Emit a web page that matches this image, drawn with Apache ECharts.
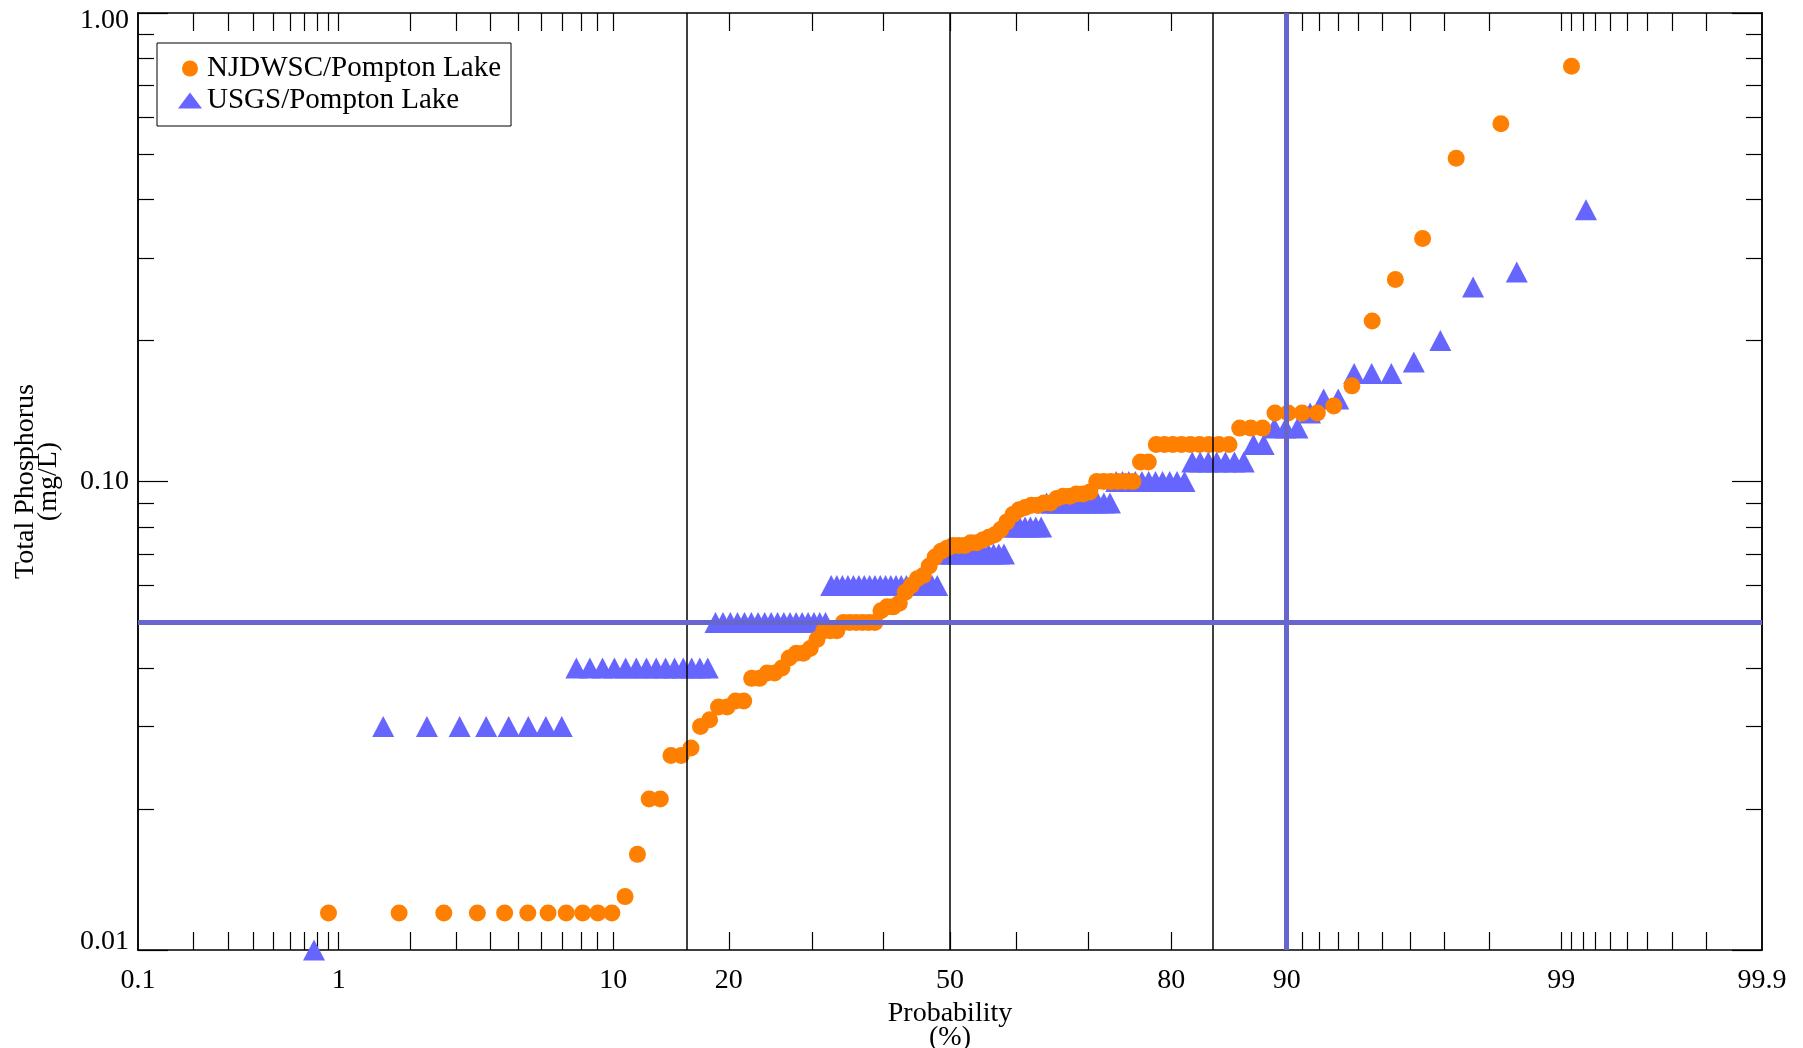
<!DOCTYPE html>
<html>
<head>
<meta charset="utf-8">
<title>Total Phosphorus - Pompton Lake</title>
<script src="https://cdn.jsdelivr.net/npm/echarts@6/dist/echarts.min.js"></script>
<style>
html,body{margin:0;padding:0;background:#fff;}
#chart{width:1803px;height:1048px;}
</style>
</head>
<body>
<div id="chart"></div>
<script>
// 排序后的总磷浓度 (mg/L)
const njdwsc = [
  0.012, 0.012, 0.012, 0.012, 0.012, 0.012, 0.012, 0.012, 0.012, 0.012, 0.012,
  0.013, 0.016, 0.021, 0.021, 0.026, 0.026, 0.027, 0.030, 0.031, 0.033, 0.033, 0.034, 0.034,
  0.038, 0.038, 0.039, 0.039, 0.040, 0.042, 0.043, 0.043, 0.044, 0.046, 0.048, 0.048, 0.048,
  0.050, 0.050, 0.050, 0.050, 0.050, 0.050,
  0.053, 0.054, 0.054, 0.055, 0.058, 0.060, 0.062, 0.063, 0.066, 0.069, 0.071, 0.072,
  0.073, 0.073, 0.073, 0.074, 0.074, 0.075, 0.076, 0.077, 0.079, 0.082, 0.085, 0.087, 0.088,
  0.089, 0.089, 0.090, 0.090, 0.092, 0.093, 0.093, 0.094, 0.094, 0.095,
  0.10, 0.10, 0.10, 0.10, 0.10, 0.10, 0.11, 0.11,
  0.12, 0.12, 0.12, 0.12, 0.12, 0.12, 0.12, 0.12, 0.12,
  0.13, 0.13, 0.13, 0.14, 0.14, 0.14, 0.14, 0.145, 0.16,
  0.22, 0.27, 0.33, 0.49, 0.58, 0.77
];
const usgs = [
  0.01,
  0.03, 0.03, 0.03, 0.03, 0.03, 0.03, 0.03, 0.03,
  0.04, 0.04, 0.04, 0.04, 0.04, 0.04, 0.04, 0.04, 0.04, 0.04, 0.04, 0.04, 0.04, 0.04,
  0.05, 0.05, 0.05, 0.05, 0.05, 0.05, 0.05, 0.05, 0.05, 0.05, 0.05, 0.05, 0.05, 0.05, 0.05, 0.05, 0.05, 0.05,
  0.06, 0.06, 0.06, 0.06, 0.06, 0.06, 0.06, 0.06, 0.06, 0.06, 0.06, 0.06, 0.06, 0.06, 0.06, 0.06, 0.06, 0.06, 0.06, 0.06, 0.06,
  0.07, 0.07, 0.07, 0.07, 0.07, 0.07, 0.07, 0.07, 0.07, 0.07, 0.07, 0.07, 0.07,
  0.08, 0.08, 0.08, 0.08, 0.08, 0.08, 0.08,
  0.09, 0.09, 0.09, 0.09, 0.09, 0.09, 0.09, 0.09, 0.09, 0.09, 0.09, 0.09,
  0.10, 0.10, 0.10, 0.10, 0.10, 0.10, 0.10, 0.10, 0.10, 0.10, 0.10,
  0.11, 0.11, 0.11, 0.11, 0.11, 0.11, 0.11,
  0.12, 0.12, 0.13, 0.13, 0.13, 0.14, 0.15, 0.15, 0.17, 0.17, 0.17,
  0.18, 0.20, 0.26, 0.28, 0.38
];

// 概率轴刻度 (%)
const tickProbs = [0.2, 0.3, 0.4, 0.5, 0.6, 0.7, 0.8, 0.9, 1, 2, 3, 4, 5, 6, 7, 8, 9, 10,
  20, 30, 40, 50, 60, 70, 80, 90, 91, 92, 93, 94, 95, 96, 97, 98, 99,
  99.1, 99.2, 99.3, 99.4, 99.5, 99.6, 99.7, 99.8];
const labelProbs = [0.1, 1, 10, 20, 50, 80, 90, 99, 99.9];
const yMajorTicks = [0.01, 0.1, 1];
const yMinorTicks = [0.02, 0.03, 0.04, 0.05, 0.06, 0.07, 0.08, 0.09, 0.2, 0.3, 0.4, 0.5, 0.6, 0.7, 0.8, 0.9];
const sigmaLines = [-1, 0, 1];   // 均值 ± 1 个标准差
const limitProb = 90;            // %
const limitValue = 0.05;         // mg/L

const FONT = '"Liberation Serif", "Times New Roman", serif';

// 标准正态分布的反函数 (Acklam)
function probit(p) {
  const a = [-3.969683028665376e+01, 2.209460984245205e+02, -2.759285104469687e+02, 1.383577518672690e+02, -3.066479806614716e+01, 2.506628277459239e+00];
  const b = [-5.447609879822406e+01, 1.615858368580409e+02, -1.556989798598866e+02, 6.680131188771972e+01, -1.328068155288572e+01];
  const c = [-7.784894002430293e-03, -3.223964580411365e-01, -2.400758277161838e+00, -2.549732539343734e+00, 4.374664141464968e+00, 2.938163982698783e+00];
  const d = [7.784695709041462e-03, 3.224671290700398e-01, 2.445134137142996e+00, 3.754408661907416e+00];
  const pl = 0.02425;
  let q, r;
  if (p < pl) {
    q = Math.sqrt(-2 * Math.log(p));
    return (((((c[0]*q+c[1])*q+c[2])*q+c[3])*q+c[4])*q+c[5]) / ((((d[0]*q+d[1])*q+d[2])*q+d[3])*q+1);
  }
  if (p <= 1 - pl) {
    q = p - 0.5; r = q * q;
    return (((((a[0]*r+a[1])*r+a[2])*r+a[3])*r+a[4])*r+a[5])*q / (((((b[0]*r+b[1])*r+b[2])*r+b[3])*r+b[4])*r+1);
  }
  q = Math.sqrt(-2 * Math.log(1 - p));
  return -(((((c[0]*q+c[1])*q+c[2])*q+c[3])*q+c[4])*q+c[5]) / ((((d[0]*q+d[1])*q+d[2])*q+d[3])*q+1);
}
const z = pct => probit(pct / 100);

// Weibull 绘图位置 i/(n+1)
function toPoints(values) {
  const n = values.length;
  return values.map((v, i) => [probit((i + 1) / (n + 1)), v]);
}

const xMin = z(0.1), xMax = z(99.9);
const tickZ = tickProbs.map(z);
const labelZ = labelProbs.map(z);

function probLabel(value) {
  for (let i = 0; i < labelZ.length; i++) {
    if (Math.abs(labelZ[i] - value) < 1e-6) return String(labelProbs[i]);
  }
  return '';
}

const chart = echarts.init(document.getElementById('chart'));

const xBase = {
  type: 'value', min: xMin, max: xMax,
  splitLine: { show: false },
  axisLine: { show: true, onZero: false, lineStyle: { color: '#000', width: 1.5 } },
  axisTick: { show: true, inside: true, length: 18, customValues: tickZ, lineStyle: { color: '#000', width: 1.2 } }
};
const yBase = {
  type: 'log', logBase: 10, min: 0.01, max: 1,
  splitLine: { show: false },
  minorTick: { show: false },
  axisLine: { show: true, onZero: false, lineStyle: { color: '#000', width: 1.5 } }
};

chart.setOption({
  backgroundColor: '#fff',
  animation: false,
  textStyle: { fontFamily: FONT },
  grid: { left: 138, right: 41, top: 13, bottom: 98, containLabel: false, outerBoundsMode: 'none' },
  legend: {
    orient: 'vertical', left: 157, top: 43,
    data: [
      { name: 'NJDWSC/Pompton Lake', icon: 'circle' },
      { name: 'USGS/Pompton Lake', icon: 'triangle' }
    ],
    itemWidth: 24, itemHeight: 16, itemGap: 3,
    padding: [11, 10, 11, 21],
    borderColor: '#000', borderWidth: 1, borderRadius: 0,
    backgroundColor: '#fff',
    textStyle: { fontFamily: FONT, fontSize: 29, color: '#000' }
  },
  xAxis: [
    Object.assign({}, xBase, {
      position: 'bottom',
      name: 'Probability\n(%)', nameLocation: 'middle', nameGap: 42,
      nameTextStyle: { fontFamily: FONT, fontSize: 28, color: '#000', lineHeight: 24 },
      axisLabel: {
        show: true, customValues: labelZ, formatter: probLabel, margin: 17,
        fontFamily: FONT, fontSize: 28, color: '#000'
      }
    }),
    Object.assign({}, xBase, { position: 'top', axisLabel: { show: false } })
  ],
  yAxis: [
    Object.assign({}, yBase, {
      position: 'left',
      name: 'Total Phosphorus\n(mg/L)', nameLocation: 'middle', nameGap: 78, nameRotate: 90,
      nameTextStyle: { fontFamily: FONT, fontSize: 28, color: '#000', lineHeight: 23 },
      axisTick: { show: true, inside: true, length: 30, customValues: yMajorTicks, lineStyle: { color: '#000', width: 1.2 } },
      axisLabel: {
        show: true, customValues: yMajorTicks, margin: 9,
        fontFamily: FONT, fontSize: 28, color: '#000',
        formatter: function (v) {
          const s = Number(v).toFixed(2);
          if (v >= 0.99) return '{t|' + s + '}';
          if (v <= 0.0101) return '{b|' + s + '}';
          return s;
        },
        rich: {
          t: { fontFamily: FONT, fontSize: 28, color: '#000', padding: [16, 0, 0, 0] },
          b: { fontFamily: FONT, fontSize: 28, color: '#000', padding: [0, 0, 16, 0] }
        }
      }
    }),
    Object.assign({}, yBase, {
      position: 'left', axisLabel: { show: false },
      axisTick: { show: true, inside: true, length: 16, customValues: yMinorTicks, lineStyle: { color: '#000', width: 1.2 } }
    }),
    Object.assign({}, yBase, {
      position: 'right', axisLabel: { show: false },
      axisTick: { show: true, inside: true, length: 30, customValues: yMajorTicks, lineStyle: { color: '#000', width: 1.2 } }
    }),
    Object.assign({}, yBase, {
      position: 'right', axisLabel: { show: false },
      axisTick: { show: true, inside: true, length: 16, customValues: yMinorTicks, lineStyle: { color: '#000', width: 1.2 } }
    })
  ],
  tooltip: { show: false },
  series: [
    {
      name: 'USGS/Pompton Lake',
      type: 'scatter', z: 2, clip: false,
      symbol: 'triangle', symbolSize: [22, 21],
      itemStyle: { color: '#6666ff', opacity: 1 },
      data: toPoints(usgs)
    },
    {
      name: 'NJDWSC/Pompton Lake',
      type: 'scatter', z: 3, clip: false,
      symbol: 'circle', symbolSize: 17,
      itemStyle: { color: '#ff8000', opacity: 1 },
      data: toPoints(njdwsc),
      markLine: {
        silent: true, symbol: 'none', z: 5,
        label: { show: false },
        emphasis: { disabled: true },
        data: sigmaLines.map(s => ({ xAxis: s, lineStyle: { color: '#000', width: 1.5, type: 'solid' } }))
          .concat([
            { xAxis: z(limitProb), lineStyle: { color: '#6666cc', width: 5, type: 'solid' } },
            { yAxis: limitValue, lineStyle: { color: '#6666cc', width: 5, type: 'solid' } }
          ])
      }
    }
  ]
});
</script>
</body>
</html>
